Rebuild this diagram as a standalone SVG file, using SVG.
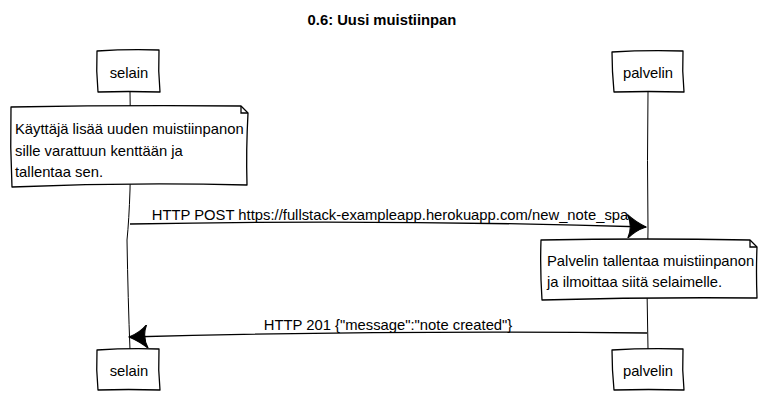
<svg xmlns="http://www.w3.org/2000/svg" width="763" height="415" viewBox="0 0 763 415">
<style>
.t{font-family:"Liberation Sans",Arial,sans-serif;font-size:14.8px;fill:#000}
.c{text-anchor:middle}
.b{fill:#fff;stroke:#000;stroke-width:1.3;stroke-linejoin:round}
.l{fill:none;stroke:#000;stroke-width:1}
.m{fill:none;stroke:#000;stroke-width:1.3}
</style>
<defs>
<marker id="ah" viewBox="0 0 22 24" refX="21" refY="12" markerWidth="22" markerHeight="24" markerUnits="userSpaceOnUse" orient="auto">
<path d="M2,0 Q10,7 21,12 Q10,16 3,24 Q8,12 2,0 Z" fill="#000" stroke="#000" stroke-width="1"/>
</marker>
</defs>
<rect width="763" height="415" fill="#fff"/>
<text class="t c" x="382" y="25" font-weight="bold">0.6: Uusi muistiinpan</text>
<g id="lifelines">
<path class="l" d="M130,92 Q131,150 130,190 Q129,220 127,240 Q128,300 130,350"/>
<path class="l" d="M648,92 Q647,160 648,230 Q646,290 648,349"/>
</g>
<g id="selain-top">
<path class="b" d="M97,51 Q128,49 159,50 Q158,71 160,92 Q128,91 98,92 Q96,71 97,51 Z"/>
<text class="t c" x="129" y="78">selain</text>
</g>
<g id="palvelin-top">
<path class="b" d="M612,52 Q645,50 683,51 Q682,71 684,92 Q648,91 614,92 Q612,71 612,52 Z"/>
<text class="t c" x="648" y="78">palvelin</text>
</g>
<g id="note1">
<path class="b" d="M11,107 Q125,105 241,106 L248,113 Q246,150 247,185 Q130,182 12,187 Q10,147 11,107 Z"/>
<path class="m" d="M241,106 L241,113 L248,113"/>
<text class="t" x="15" y="134">Käyttäjä lisää uuden muistiinpanon</text>
<text class="t" x="15" y="156">sille varattuun kenttään ja</text>
<text class="t" x="15" y="177">tallentaa sen.</text>
</g>
<g id="note2">
<path class="b" d="M541,240 Q645,238 750,240 L757,247 Q756,272 757,298 Q650,297 542,300 Q540,270 541,240 Z"/>
<path class="m" d="M750,240 L750,247 L757,247"/>
<text class="t" x="547" y="266">Palvelin tallentaa muistiinpanon</text>
<text class="t" x="547" y="287">ja ilmoittaa siitä selaimelle.</text>
</g>
<g id="connectors">
<path class="m" d="M130,224 Q380,219 646,227" marker-end="url(#ah)"/>
<text class="t c" x="390" y="220">HTTP POST https://fullstack-exampleapp.herokuapp.com/new_note_spa</text>
<path class="m" d="M647,333 Q390,330 129,337" marker-end="url(#ah)"/>
<text class="t c" x="388" y="330">HTTP 201 {"message":"note created"}</text>
</g>
<g id="selain-bottom">
<path class="b" d="M97,350 Q128,348 159,349 Q158,370 160,390 Q128,389 98,390 Q96,370 97,350 Z"/>
<text class="t c" x="129" y="376">selain</text>
</g>
<g id="palvelin-bottom">
<path class="b" d="M612,350 Q645,348 683,349 Q682,370 684,390 Q648,389 614,390 Q612,370 612,350 Z"/>
<text class="t c" x="648" y="376">palvelin</text>
</g>
</svg>
